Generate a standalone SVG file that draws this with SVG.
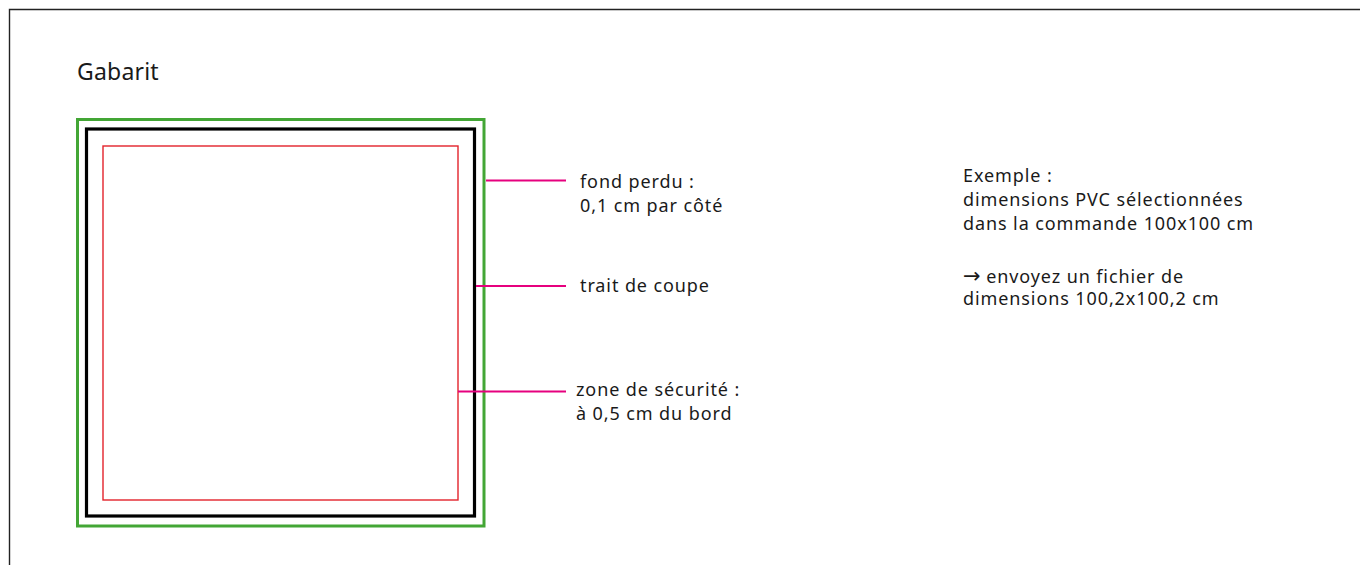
<svg xmlns="http://www.w3.org/2000/svg" width="1360" height="565" viewBox="0 0 1360 565">
<style>
.t{font-family:"Noto Sans","Liberation Sans",sans-serif;font-size:18px;letter-spacing:0.9px;fill:#1a1a1a}
.a{font-family:"DejaVu Sans",sans-serif;font-size:21px;letter-spacing:0}
.c{stroke:#e6007e;stroke-width:2;fill:none}
</style>
<rect width="1360" height="565" fill="#fff"/>
<path d="M9.5 565 V9.5 H1360" fill="none" stroke="#222" stroke-width="1.4"/>
<text x="77" y="80" class="t" style="font-size:23px;letter-spacing:0.2px">Gabarit</text>
<g id="bleed"><rect x="77.5" y="119.5" width="406.5" height="406.5" fill="none" stroke="#43a635" stroke-width="3"/></g>
<g id="cut"><rect x="86.5" y="129" width="388" height="387" fill="none" stroke="#000" stroke-width="3.2"/></g>
<g id="safe"><rect x="103" y="146" width="355" height="354" fill="none" stroke="#e3232b" stroke-width="1.4"/></g>
<g id="connectors">
<line class="c" x1="486" y1="180.5" x2="566" y2="180.5"/>
<line class="c" x1="476" y1="286" x2="566" y2="286"/>
<line class="c" x1="458" y1="391.5" x2="566" y2="391.5"/>
</g>
<g id="label-bleed"><text class="t" x="580" y="188">fond perdu :</text><text class="t" x="580" y="212">0,1 cm par côté</text></g>
<g id="label-cut"><text class="t" x="580" y="292">trait de coupe</text></g>
<g id="label-safe"><text class="t" x="576" y="396">zone de sécurité :</text><text class="t" x="576" y="420">à 0,5 cm du bord</text></g>
<g id="example">
<text class="t" x="963" y="182">Exemple :</text>
<text class="t" x="963" y="206">dimensions PVC sélectionnées</text>
<text class="t" x="963" y="230">dans la commande 100x100 cm</text>
<text class="t" x="963" y="283"><tspan class="a">→</tspan> envoyez un fichier de</text>
<text class="t" x="963" y="305">dimensions 100,2x100,2 cm</text>
</g>
</svg>
